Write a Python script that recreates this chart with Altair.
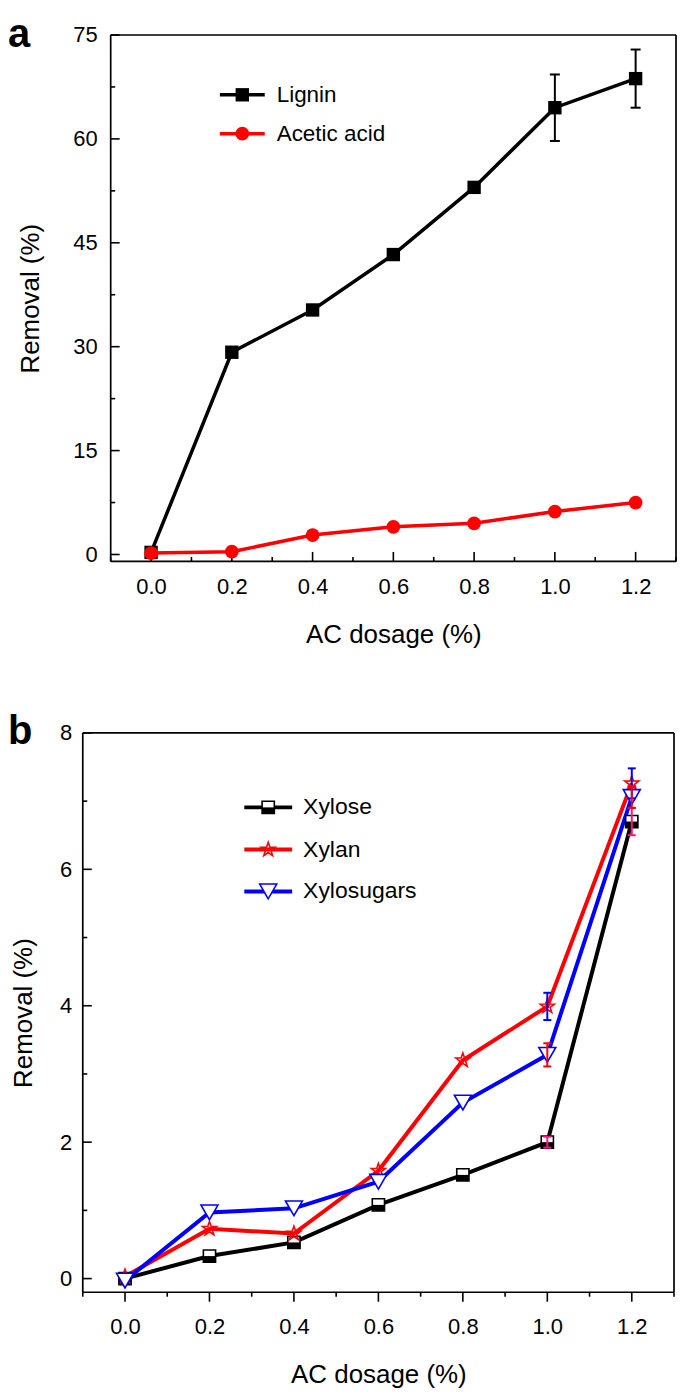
import altair as alt
import pandas as pd

FONT = "Liberation Sans"

# ---------------- data ----------------
dosage = [0.0, 0.2, 0.4, 0.6, 0.8, 1.0, 1.2]

# panel a
lignin = [0.3, 29.2, 35.3, 43.3, 53.0, 64.5, 68.7]
lignin_err = [0, 0, 0, 0, 0, 4.8, 4.2]
acetic = [0.2, 0.4, 2.8, 4.0, 4.5, 6.2, 7.5]

# panel b
xylose = [0.0, 0.33, 0.53, 1.08, 1.52, 2.0, 6.70]
xylose_err = [0, 0, 0, 0, 0, 0.08, 0.20]
xylan = [0.03, 0.73, 0.66, 1.58, 3.20, 3.99, 7.26]
xylan_err = [0, 0, 0, 0, 0, 0.20, 0.22]
xylosugars = [-0.03, 0.97, 1.03, 1.42, 2.58, 3.28, 7.06]
xylosugars_err = [0, 0, 0, 0, 0, 0.17, 0.16]

series_a = ["Lignin", "Acetic acid"]
series_b = ["Xylose", "Xylan", "Xylosugars"]

x_major = [0.0, 0.2, 0.4, 0.6, 0.8, 1.0, 1.2]
x_minor = [-0.1, 0.1, 0.3, 0.5, 0.7, 0.9, 1.1, 1.3]
ya_major = [0, 15, 30, 45, 60, 75]
ya_minor = [7.5, 22.5, 37.5, 52.5, 67.5]
yb_major = [0, 2, 4, 6, 8]
yb_minor = [1, 3, 5, 7]

STAR = ("M0,-1L0.235,-0.324L0.951,-0.309L0.380,0.124L0.588,0.809L0,0.4"
        "L-0.588,0.809L-0.380,0.124L-0.951,-0.309L-0.235,-0.324Z")
HALF_BOTTOM = "M-1,0L1,0L1,1L-1,1Z"
BLK = "black"


def make_axes(H, ypad, xpad, ytitle_x, xtitle_y, fmt_y, y_vals, y_offset):
    ax_x = alt.Axis(values=x_major, format=".1f", ticks=False, tickSize=0, domain=False,
                    grid=False, labelFont=FONT, labelFontSize=22, labelColor=BLK,
                    labelPadding=xpad, title="AC dosage (%)", titleFont=FONT,
                    titleFontSize=26, titleFontWeight="normal", titleColor=BLK,
                    titleY=xtitle_y, titleBaseline="middle", titleAlign="center")
    ax_y = alt.Axis(values=y_vals, format=fmt_y, ticks=False, tickSize=0, domain=False,
                    grid=False, labelFont=FONT, labelFontSize=22, labelColor=BLK,
                    labelPadding=ypad, title="Removal (%)", titleFont=FONT, titleFontSize=26,
                    titleFontWeight="normal", titleColor=BLK, titleX=ytitle_x,
                    titleY=H / 2, titleAngle=270, titleAlign="center", titleBaseline="middle",
                    offset=y_offset)
    return ax_x, ax_y


class Panel:
    def __init__(self, xs, ys, axx, axy):
        self.xs, self.ys, self.axx, self.axy = xs, ys, axx, axy

    def X(self, f):
        return alt.X(f, scale=self.xs, axis=self.axx)

    def Y(self, f):
        return alt.Y(f, scale=self.ys, axis=self.axy)


def frame(x0, x1, H):
    d = pd.DataFrame({"k": [0]})
    s = dict(color=BLK, strokeWidth=1.7)
    return [
        alt.Chart(d).mark_rule(**s).encode(x=alt.value(x0), y=alt.value(0), y2=alt.value(H)),
        alt.Chart(d).mark_rule(**s).encode(x=alt.value(x1), y=alt.value(0), y2=alt.value(H)),
        alt.Chart(d).mark_rule(**s).encode(y=alt.value(0), x=alt.value(x0), x2=alt.value(x1)),
        alt.Chart(d).mark_rule(**s).encode(y=alt.value(H), x=alt.value(x0), x2=alt.value(x1)),
    ]


def frame_ticks(P, x0, H, y_major, y_minor, x_outward):
    layers = []
    for vals, ln in ((y_major, 9), (y_minor, 4.5)):
        layers.append(
            alt.Chart(pd.DataFrame({"v": vals})).mark_rule(color=BLK, strokeWidth=1.6).encode(
                y=P.Y("v:Q"), x=alt.value(x0), x2=alt.value(x0 + ln)))
    for vals, ln in ((x_major, 9.5), (x_minor, 4.5)):
        y2 = H + ln if x_outward else H - ln
        layers.append(
            alt.Chart(pd.DataFrame({"v": vals})).mark_rule(color=BLK, strokeWidth=1.6).encode(
                x=P.X("v:Q"), y=alt.value(H), y2=alt.value(y2)))
    return layers


def errbars(P, df, col, errcol, color, cap):
    d = df[df[errcol] > 0].copy()
    d["lo"] = d[col] - d[errcol]
    d["hi"] = d[col] + d[errcol]
    base = alt.Chart(d)
    rule = base.mark_rule(color=color, strokeWidth=2).encode(x=P.X("x:Q"), y=P.Y("lo:Q"), y2="hi:Q")
    lo = base.mark_tick(orient="horizontal", size=cap, thickness=2, color=color, opacity=1).encode(
        x=P.X("x:Q"), y=P.Y("lo:Q"))
    hi = base.mark_tick(orient="horizontal", size=cap, thickness=2, color=color, opacity=1).encode(
        x=P.X("x:Q"), y=P.Y("hi:Q"))
    return [rule, lo, hi]


def legend_row(label, y, x0, x1, xt, color, lw, pt_kwargs, fs):
    d = pd.DataFrame({"label": [label]})
    line = alt.Chart(d).mark_rule(color=color, strokeWidth=lw).encode(
        x=alt.value(x0), x2=alt.value(x1), y=alt.value(y))
    pts = [alt.Chart(d).mark_point(opacity=1, **kw).encode(x=alt.value((x0 + x1) / 2),
                                                           y=alt.value(y)) for kw in pt_kwargs]
    txt = alt.Chart(d).mark_text(align="left", baseline="middle", font=FONT, fontSize=fs,
                                 color=BLK).encode(x=alt.value(xt), y=alt.value(y), text="label:N")
    return [line] + pts + [txt]


def panel_letter(letter, x, y):
    return alt.Chart(pd.DataFrame({"t": [letter]})).mark_text(
        align="left", baseline="alphabetic", font=FONT, fontSize=40, fontWeight="bold",
        color=BLK).encode(x=alt.value(x), y=alt.value(y), text="t:N")


# ---------------- panel a ----------------
OFF_A = 28            # plot area of panel a starts 28px right of panel b's
WA, HA = 567, 528
xsA = alt.Scale(domain=[-0.1, 1.3], nice=False, zero=False, range=[OFF_A, OFF_A + WA])
ysA = alt.Scale(domain=[-1, 75], nice=False, zero=False)
axAx, axAy = make_axes(HA, 13.5, 15, -80.5, 73, "d", ya_major, -OFF_A)
PA = Panel(xsA, ysA, axAx, axAy)
dfA = pd.DataFrame({"x": dosage, "lignin": lignin, "lerr": lignin_err, "acetic": acetic})
baseA = alt.Chart(dfA)

layersA = [baseA.mark_line(color=BLK, strokeWidth=3.5).encode(x=PA.X("x:Q"), y=PA.Y("lignin:Q"))]
layersA += frame(OFF_A, OFF_A + WA, HA)
layersA += frame_ticks(PA, OFF_A, HA, ya_major, ya_minor, False)
layersA += errbars(PA, dfA, "lignin", "lerr", BLK, 10)
layersA += [
    baseA.mark_point(shape="square", filled=True, color=BLK, size=180, opacity=1).encode(
        x=PA.X("x:Q"), y=PA.Y("lignin:Q")),
    baseA.mark_line(color="red", strokeWidth=3.5).encode(x=PA.X("x:Q"), y=PA.Y("acetic:Q")),
    baseA.mark_point(shape="circle", filled=True, color="red", size=190, opacity=1).encode(
        x=PA.X("x:Q"), y=PA.Y("acetic:Q")),
]
LX = OFF_A
layersA += legend_row(series_a[0], 60, LX + 109.5, LX + 154.5, LX + 166.5, BLK, 3.5,
                      [dict(shape="square", filled=True, color=BLK, size=180)], 22.5)
layersA += legend_row(series_a[1], 99, LX + 109.5, LX + 154.5, LX + 166.5, "red", 3.5,
                      [dict(shape="circle", filled=True, color="red", size=190)], 22.5)
layersA.append(panel_letter("a", -75, 12))

panelA = alt.layer(*layersA).properties(width=OFF_A + WA, height=HA)

# ---------------- panel b ----------------
WB, HB = 593, 561
xsB = alt.Scale(domain=[-0.1, 1.3], nice=False, zero=False)
ysB = alt.Scale(domain=[-0.2, 8], nice=False, zero=False)
axBx, axBy = make_axes(HB, 11, 24, -59.4, 83, "d", yb_major, 0)
PB = Panel(xsB, ysB, axBx, axBy)
dfB = pd.DataFrame({"x": dosage, "xylose": xylose, "e1": xylose_err, "xylan": xylan,
                    "e2": xylan_err, "xylosugars": xylosugars, "e3": xylosugars_err})
baseB = alt.Chart(dfB)

xylose_mk = [dict(shape="square", filled=True, fill="white", stroke=BLK, strokeWidth=1.6,
                  size=150),
             dict(shape=HALF_BOTTOM, filled=True, color=BLK, size=150)]
xylan_mk = [dict(shape=STAR, filled=False, color="red", strokeWidth=1.6, size=220)]
sugars_mk = [dict(shape="triangle-down", filled=True, fill="white", stroke="blue",
                  strokeWidth=1.6, size=290)]

layersB = [baseB.mark_line(color=BLK, strokeWidth=4).encode(x=PB.X("x:Q"), y=PB.Y("xylose:Q"))]
layersB += frame(0, WB, HB)
layersB += frame_ticks(PB, 0, HB, yb_major, yb_minor, True)
layersB += [
    baseB.mark_line(color="red", strokeWidth=4).encode(x=PB.X("x:Q"), y=PB.Y("xylan:Q")),
    baseB.mark_line(color="blue", strokeWidth=4).encode(x=PB.X("x:Q"), y=PB.Y("xylosugars:Q")),
]
for col, mks in (("xylose", xylose_mk), ("xylan", xylan_mk), ("xylosugars", sugars_mk)):
    for kw in mks:
        layersB.append(baseB.mark_point(opacity=1, **kw).encode(x=PB.X("x:Q"), y=PB.Y(col + ":Q")))
layersB += errbars(PB, dfB, "xylose", "e1", "#FF1480", 8)
layersB += errbars(PB, dfB, "xylan", "e2", "blue", 8)
layersB += errbars(PB, dfB, "xylosugars", "e3", "red", 8)
layersB += legend_row(series_b[0], 74.7, 162, 210, 221, BLK, 4, xylose_mk, 23)
layersB += legend_row(series_b[1], 117, 162, 210, 221, "red", 4, xylan_mk, 23)
layersB += legend_row(series_b[2], 159, 162, 210, 221, "blue", 4, sugars_mk, 23)
layersB.append(panel_letter("b", -75, 11))

panelB = alt.layer(*layersB).properties(width=WB, height=HB)

chart = alt.vconcat(panelA, panelB, spacing=65).properties(
    padding={"left": 0, "top": 5, "right": 0, "bottom": 0}
).configure_view(stroke=None)

chart.save("out.html", embed_options={"renderer": "svg", "actions": False})
